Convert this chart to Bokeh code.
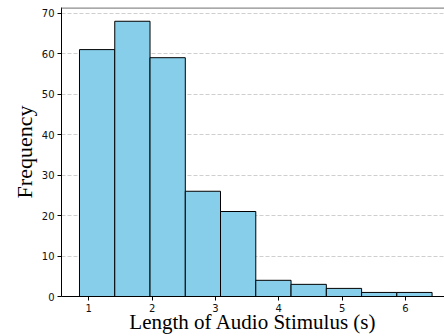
from bokeh.plotting import figure
from bokeh.models import Range1d, FixedTicker, Span, ColumnDataSource
from bokeh.embed import file_html
from bokeh.resources import INLINE

# Histogram data (bin edges in seconds, counts per bin)
bin_edges = [0.853, 1.410, 1.967, 2.524, 3.080, 3.637, 4.194, 4.751, 5.308, 5.864, 6.421]
counts = [61, 68, 59, 26, 21, 4, 3, 2, 1, 1]
x_ticks = [1, 2, 3, 4, 5, 6]
y_ticks = [0, 10, 20, 30, 40, 50, 60, 70]
x_label = "Length of Audio Stimulus (s)"
y_label = "Frequency"

src = ColumnDataSource(dict(
    left=bin_edges[:-1],
    right=bin_edges[1:],
    top=counts,
    bottom=[0] * len(counts),
))

y_end = max(counts) * 1.05

p = figure(width=444, height=336, output_backend="svg", toolbar_location=None,
           x_range=Range1d(0.569, 6.617), y_range=Range1d(0, y_end),
           min_border_left=61, min_border_right=0, min_border_top=7, min_border_bottom=40)
p.outline_line_color = None
p.background_fill_color = "white"
p.border_fill_color = "white"

p.quad(left="left", right="right", top="top", bottom="bottom", source=src,
       fill_color="#87CEEB", line_color="black", line_width=1)

# grid
p.xgrid.grid_line_color = None
p.ygrid.grid_line_color = "#cfcfcf"
p.ygrid.grid_line_dash = "4 2"
p.ygrid.grid_line_width = 1

# top spine (gray)
p.add_layout(Span(location=y_end, dimension="width", line_color="#8c8c8c", line_width=2.5))

for ax in (p.xaxis[0], p.yaxis[0]):
    ax.axis_line_color = "black"
    ax.axis_line_width = 1
    ax.major_tick_line_color = "black"
    ax.major_tick_out = 4
    ax.major_tick_in = 0
    ax.minor_tick_line_color = None
    ax.major_label_text_font = "DejaVu Sans"
    ax.major_label_text_font_size = "10px"
    ax.major_label_text_color = "#111111"
    ax.axis_label_text_font = "Liberation Serif"
    ax.axis_label_text_font_style = "normal"
    ax.axis_label_text_color = "black"

p.xaxis[0].axis_label_text_font_size = "21px"
p.yaxis[0].axis_label_text_font_size = "22px"
p.xaxis[0].ticker = FixedTicker(ticks=x_ticks)
p.yaxis[0].ticker = FixedTicker(ticks=y_ticks)
p.xaxis[0].axis_label = x_label
p.yaxis[0].axis_label = y_label
p.xaxis[0].major_label_standoff = 3
p.xaxis[0].axis_label_standoff = -5
p.yaxis[0].major_label_standoff = 3
p.yaxis[0].axis_label_standoff = 2

open("out.html", "w").write(file_html(p, INLINE))
